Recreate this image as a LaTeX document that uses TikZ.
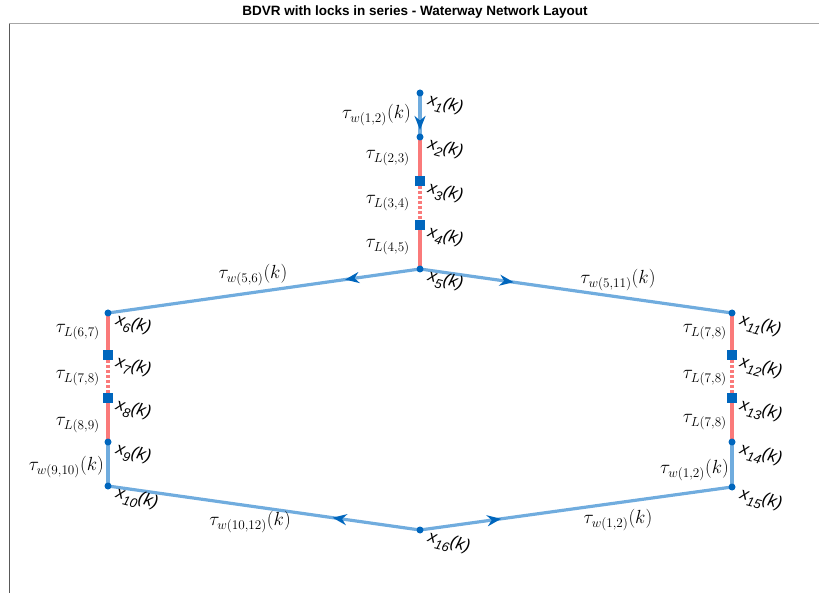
\documentclass[tikz,border=0pt]{standalone}
\usepackage{graphicx}
\usepackage[no-math]{fontspec}
\setmainfont{Liberation Sans}
\usetikzlibrary{arrows.meta,decorations.markings,backgrounds}
\definecolor{lblue}{RGB}{112,172,222}
\definecolor{lred}{RGB}{250,122,122}
\definecolor{dblue}{RGB}{0,102,189}
\newcommand\xsub[1]{x\raisebox{-5.5pt}{\fontsize{13}{12}\selectfont #1}(k)}
\newcommand\tlx[1]{\scalebox{1.1}{$#1$}}
\begin{document}
\begin{tikzpicture}[x=1pt,y=-1pt,
  wline/.style={draw=lblue,line width=3.2pt},
  lline/.style={draw=lred,line width=3.2pt},
  dline/.style={draw=lred,line width=3.2pt,dash pattern=on 2.6pt off 2.4pt},
  dotn/.style={circle,fill=dblue,inner sep=0pt,minimum size=7pt},
  sqn/.style={rectangle,fill=dblue,inner sep=0pt,minimum size=10.5pt},
  xlab/.style={rotate=-15,anchor=base west,inner sep=0pt,font=\fontsize{17}{18}\selectfont\itshape},
  tlab/.style={inner sep=0pt,font=\fontsize{17.28}{20}\selectfont},
  arr/.style={postaction={decorate},decoration={markings,mark=at position #1 with {\arrow{Stealth[length=14pt,width=11pt,inset=4.5pt,color=dblue]}}}}
]
\useasboundingbox (0,0) rectangle (819,593);
\draw[line width=1pt,color=black!65] (9,593) -- (9,23.5);
\draw[line width=1pt,color=black!35] (9,23.5) -- (819,23.5);
\node[font=\fontsize{13.5}{15}\selectfont\bfseries] (title) at (415,12) {BDVR with locks in series - Waterway Network Layout};

% nodes
\node[dotn] (n1) at (420,93) {};
\node[dotn] (n2) at (420,137) {};
\node[sqn]  (n3) at (420,181) {};
\node[sqn]  (n4) at (420,225) {};
\node[dotn] (n5) at (420,269) {};
\node[dotn] (n6) at (108,313) {};
\node[sqn]  (n7) at (108,355) {};
\node[sqn]  (n8) at (108,398) {};
\node[dotn] (n9) at (108,442) {};
\node[dotn] (n10) at (108,486) {};
\node[dotn] (n11) at (732,313) {};
\node[sqn]  (n12) at (732,355) {};
\node[sqn]  (n13) at (732,398) {};
\node[dotn] (n14) at (732,442) {};
\node[dotn] (n15) at (732,487) {};
\node[dotn] (n16) at (420,530) {};

\begin{scope}[on background layer]
\draw[wline,arr=0.84] (n1.center) -- (n2.center);
\draw[lline] (n2.center) -- (n3.center);
\draw[dline] (n3.center) -- (n4.center);
\draw[lline] (n4.center) -- (n5.center);
\draw[wline,arr=0.24] (n5.center) -- (n6.center);
\draw[wline,arr=0.30] (n5.center) -- (n11.center);
\draw[lline] (n6.center) -- (n7.center);
\draw[dline] (n7.center) -- (n8.center);
\draw[lline] (n8.center) -- (n9.center);
\draw[wline] (n9.center) -- (n10.center);
\draw[lline] (n11.center) -- (n12.center);
\draw[dline] (n12.center) -- (n13.center);
\draw[lline] (n13.center) -- (n14.center);
\draw[wline] (n14.center) -- (n15.center);
\draw[wline,arr=0.28] (n16.center) -- (n10.center);
\draw[wline,arr=0.26] (n16.center) -- (n15.center);
\end{scope}

% state labels
\path (n1) ++(7,11) node[xlab] (l1) {\xsub{1}};
\path (n2) ++(7,11) node[xlab] (l2) {\xsub{2}};
\path (n3) ++(7,11) node[xlab] (l3) {\xsub{3}};
\path (n4) ++(7,11) node[xlab] (l4) {\xsub{4}};
\path (n5) ++(7,11) node[xlab] (l5) {\xsub{5}};
\path (n6) ++(7,11) node[xlab] (l6) {\xsub{6}};
\path (n7) ++(7,11) node[xlab] (l7) {\xsub{7}};
\path (n8) ++(7,11) node[xlab] (l8) {\xsub{8}};
\path (n9) ++(7,11) node[xlab] (l9) {\xsub{9}};
\path (n10) ++(7,11) node[xlab] (l10) {\xsub{10}};
\path (n11) ++(7,11) node[xlab] (l11) {\xsub{11}};
\path (n12) ++(7,11) node[xlab] (l12) {\xsub{12}};
\path (n13) ++(7,11) node[xlab] (l13) {\xsub{13}};
\path (n14) ++(7,11) node[xlab] (l14) {\xsub{14}};
\path (n15) ++(7,11) node[xlab] (l15) {\xsub{15}};
\path (n16) ++(7,11) node[xlab] (l16) {\xsub{16}};

% edge labels
\node[tlab,anchor=east] (t12) at (411,115) {\tlx{\tau_{w(1,2)}(k)}};
\node[tlab,anchor=east] (t23) at (410,158) {\tlx{\tau_{L(2,3)}}};
\node[tlab,anchor=east] (t34) at (410,203) {\tlx{\tau_{L(3,4)}}};
\node[tlab,anchor=east] (t45) at (410,247) {\tlx{\tau_{L(4,5)}}};
\node[tlab] (t56) at (253,275) {\tlx{\tau_{w(5,6)}(k)}};
\node[tlab] (t511) at (618,280) {\tlx{\tau_{w(5,11)}(k)}};
\node[tlab,anchor=east] (t67) at (100,332) {\tlx{\tau_{L(6,7)}}};
\node[tlab,anchor=east] (t78) at (100,378) {\tlx{\tau_{L(7,8)}}};
\node[tlab,anchor=east] (t89) at (100,425) {\tlx{\tau_{L(8,9)}}};
\node[tlab,anchor=east] (t910) at (104,467) {\tlx{\tau_{w(9,10)}(k)}};
\node[tlab,anchor=east] (t1112) at (727,332) {\tlx{\tau_{L(7,8)}}};
\node[tlab,anchor=east] (t1213) at (727,378) {\tlx{\tau_{L(7,8)}}};
\node[tlab,anchor=east] (t1314) at (727,422) {\tlx{\tau_{L(7,8)}}};
\node[tlab,anchor=east] (t1415) at (729,470) {\tlx{\tau_{w(1,2)}(k)}};
\node[tlab] (t1610) at (250,522) {\tlx{\tau_{w(10,12)}(k)}};
\node[tlab] (t1615) at (618,520) {\tlx{\tau_{w(1,2)}(k)}};
\end{tikzpicture}
\end{document}
